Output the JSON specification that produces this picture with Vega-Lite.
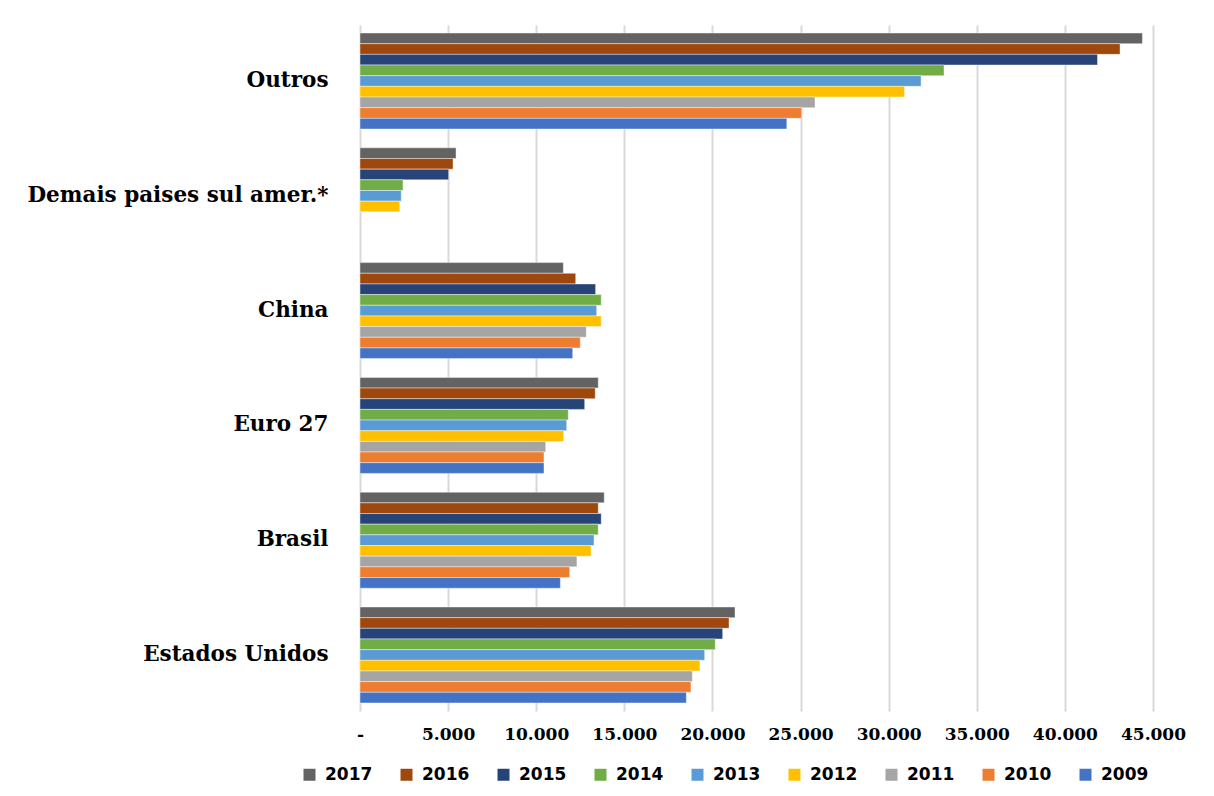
{
  "$schema": "https://vega.github.io/schema/vega-lite/v6.json",
  "width": 793,
  "height": 686,
  "autosize": {"type": "none"},
  "padding": {"left": 360, "top": 25, "right": 61, "bottom": 85},
  "background": "white",
  "data": {
    "values": [
      {"regiao": "Outros", "ano": "2017", "valor": 44400},
      {"regiao": "Outros", "ano": "2016", "valor": 43130},
      {"regiao": "Outros", "ano": "2015", "valor": 41850},
      {"regiao": "Outros", "ano": "2014", "valor": 33140},
      {"regiao": "Outros", "ano": "2013", "valor": 31840},
      {"regiao": "Outros", "ano": "2012", "valor": 30900},
      {"regiao": "Outros", "ano": "2011", "valor": 25820},
      {"regiao": "Outros", "ano": "2010", "valor": 25060},
      {"regiao": "Outros", "ano": "2009", "valor": 24220},
      {"regiao": "Demais paises sul amer.*", "ano": "2017", "valor": 5450},
      {"regiao": "Demais paises sul amer.*", "ano": "2016", "valor": 5280},
      {"regiao": "Demais paises sul amer.*", "ano": "2015", "valor": 5030},
      {"regiao": "Demais paises sul amer.*", "ano": "2014", "valor": 2440},
      {"regiao": "Demais paises sul amer.*", "ano": "2013", "valor": 2340},
      {"regiao": "Demais paises sul amer.*", "ano": "2012", "valor": 2250},
      {"regiao": "China", "ano": "2017", "valor": 11540},
      {"regiao": "China", "ano": "2016", "valor": 12240},
      {"regiao": "China", "ano": "2015", "valor": 13370},
      {"regiao": "China", "ano": "2014", "valor": 13690},
      {"regiao": "China", "ano": "2013", "valor": 13430},
      {"regiao": "China", "ano": "2012", "valor": 13690},
      {"regiao": "China", "ano": "2011", "valor": 12840},
      {"regiao": "China", "ano": "2010", "valor": 12500},
      {"regiao": "China", "ano": "2009", "valor": 12070},
      {"regiao": "Euro 27", "ano": "2017", "valor": 13520},
      {"regiao": "Euro 27", "ano": "2016", "valor": 13350},
      {"regiao": "Euro 27", "ano": "2015", "valor": 12750},
      {"regiao": "Euro 27", "ano": "2014", "valor": 11820},
      {"regiao": "Euro 27", "ano": "2013", "valor": 11730},
      {"regiao": "Euro 27", "ano": "2012", "valor": 11560},
      {"regiao": "Euro 27", "ano": "2011", "valor": 10540},
      {"regiao": "Euro 27", "ano": "2010", "valor": 10440},
      {"regiao": "Euro 27", "ano": "2009", "valor": 10440},
      {"regiao": "Brasil", "ano": "2017", "valor": 13860},
      {"regiao": "Brasil", "ano": "2016", "valor": 13520},
      {"regiao": "Brasil", "ano": "2015", "valor": 13690},
      {"regiao": "Brasil", "ano": "2014", "valor": 13520},
      {"regiao": "Brasil", "ano": "2013", "valor": 13280},
      {"regiao": "Brasil", "ano": "2012", "valor": 13110},
      {"regiao": "Brasil", "ano": "2011", "valor": 12310},
      {"regiao": "Brasil", "ano": "2010", "valor": 11900},
      {"regiao": "Brasil", "ano": "2009", "valor": 11370},
      {"regiao": "Estados Unidos", "ano": "2017", "valor": 21280},
      {"regiao": "Estados Unidos", "ano": "2016", "valor": 20940},
      {"regiao": "Estados Unidos", "ano": "2015", "valor": 20580},
      {"regiao": "Estados Unidos", "ano": "2014", "valor": 20160},
      {"regiao": "Estados Unidos", "ano": "2013", "valor": 19560},
      {"regiao": "Estados Unidos", "ano": "2012", "valor": 19290},
      {"regiao": "Estados Unidos", "ano": "2011", "valor": 18860},
      {"regiao": "Estados Unidos", "ano": "2010", "valor": 18780},
      {"regiao": "Estados Unidos", "ano": "2009", "valor": 18520}
    ]
  },
  "mark": {"type": "bar", "stroke": "white", "strokeWidth": 0.6, "strokeOpacity": 0.7},
  "encoding": {
    "y": {
      "field": "regiao",
      "type": "nominal",
      "sort": ["Outros", "Demais paises sul amer.*", "China", "Euro 27", "Brasil", "Estados Unidos"],
      "scale": {"paddingInner": 0.164, "paddingOuter": 0.07},
      "axis": {
        "title": null,
        "ticks": false,
        "domain": false,
        "grid": false,
        "labelFont": "DejaVu Serif",
        "labelFontWeight": "bold",
        "labelFontSize": 21.5,
        "labelColor": "black",
        "labelPadding": 32,
        "labelLimit": 400
      }
    },
    "yOffset": {
      "field": "ano",
      "type": "nominal",
      "sort": ["2017", "2016", "2015", "2014", "2013", "2012", "2011", "2010", "2009"],
      "scale": {"paddingInner": 0, "paddingOuter": 0}
    },
    "x": {
      "field": "valor",
      "type": "quantitative",
      "scale": {"domain": [0, 45000], "nice": false},
      "axis": {
        "title": null,
        "values": [0, 5000, 10000, 15000, 20000, 25000, 30000, 35000, 40000, 45000],
        "labelExpr": "datum.value == 0 ? '-' : replace(format(datum.value, ','), ',', '.')",
        "labelOverlap": false,
        "labelFlush": false,
        "ticks": false,
        "domain": false,
        "grid": true,
        "gridColor": "#d9d9d9",
        "gridWidth": 2,
        "labelFont": "DejaVu Serif",
        "labelFontWeight": "bold",
        "labelFontSize": 17,
        "labelColor": "black",
        "labelPadding": 15
      }
    },
    "color": {
      "field": "ano",
      "type": "nominal",
      "scale": {
        "domain": ["2017", "2016", "2015", "2014", "2013", "2012", "2011", "2010", "2009"],
        "range": ["#636363", "#9E480E", "#264478", "#70AD47", "#5B9BD5", "#FFC000", "#A5A5A5", "#ED7D31", "#4472C4"]
      },
      "legend": {
        "title": null,
        "orient": "none",
        "legendX": -59,
        "legendY": 741,
        "direction": "horizontal",
        "columns": 9,
        "columnPadding": 25,
        "symbolType": "square",
        "symbolSize": 144,
        "symbolStrokeWidth": 0,
        "labelOffset": 7,
        "labelFont": "DejaVu Sans",
        "labelFontWeight": "bold",
        "labelFontSize": 17,
        "labelColor": "black"
      }
    }
  },
  "config": {"view": {"stroke": null}}
}
